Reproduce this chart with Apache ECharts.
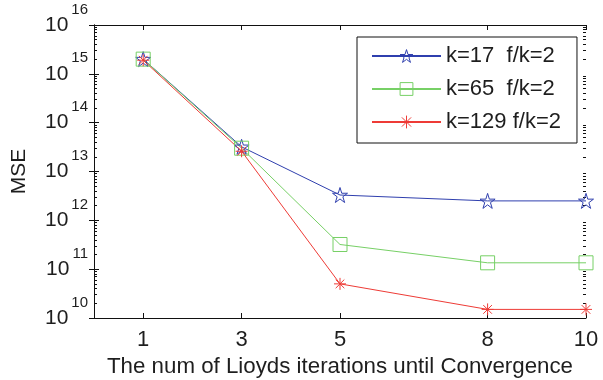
<!DOCTYPE html>
<html>
<head>
<meta charset="utf-8">
<script src="https://cdn.jsdelivr.net/npm/echarts@6/dist/echarts.min.js"></script>
<style>
html,body{margin:0;padding:0;background:#fff;}
#chart{width:603px;height:380px;}
</style>
</head>
<body>
<div id="chart"></div>
<script>
// ---- data ----
var xValues = [1, 3, 5, 8, 10];
var xTicks = [1, 3, 5, 8, 10];
var seriesNames = ['k=17  f/k=2', 'k=65  f/k=2', 'k=129 f/k=2'];
var mseK17 = [2.0e15, 3.2e13, 3.3e12, 2.5e12, 2.5e12];
var mseK65 = [2.0e15, 3.0e13, 3.2e11, 1.35e11, 1.35e11];
var mseK129 = [1.9e15, 2.6e13, 5.0e10, 1.5e10, 1.5e10];
var yTickExps = [10, 11, 12, 13, 14, 15, 16];
var xName = 'The num of Lioyds iterations until Convergence';
var yName = 'MSE';

// ---- helpers ----
var FONT = "'Liberation Sans', Arial, Helvetica, sans-serif";
var TXT = '#1e1e1e';
var yMajor = yTickExps.map(function (e) { return Math.pow(10, e); });
var yMinor = [];
for (var i = 0; i < yTickExps.length - 1; i++) {
  for (var m = 2; m <= 9; m++) yMinor.push(m * Math.pow(10, yTickExps[i]));
}
function pairs(ys) { return xValues.map(function (x, i) { return [x, ys[i]]; }); }

var starPath = 'path://M0,-1L0.2234,-0.3074L0.951,-0.309L0.3614,0.1174L0.5878,0.809L0,0.38L-0.5878,0.809L-0.3614,0.1174L-0.951,-0.309L-0.2234,-0.3074Z';
var squarePath = 'path://M-1,-1L1,-1L1,1L-1,1Z';
var asteriskPath = 'path://M0,-1L0,1M-1,0L1,0M-0.72,-0.72L0.72,0.72M-0.72,0.72L0.72,-0.72';

var colors = ['#2f3fae', '#77d066', '#ee3b36'];
var symbols = [starPath, squarePath, asteriskPath];
var symbolSizes = [15, 14, 12];

function baseY(pos, extra) {
  return Object.assign({
    type: 'log', logBase: 10, min: 1e10, max: 1e16, position: pos,
    axisLine: {show: true, lineStyle: {color: '#111', width: 1}},
    axisTick: {show: true, inside: true, length: 5, customValues: yMajor, lineStyle: {color: '#111'}},
    axisLabel: {show: false},
    splitLine: {show: false}
  }, extra || {});
}
function minorY(pos) {
  return {
    type: 'log', logBase: 10, min: 1e10, max: 1e16, position: pos,
    axisLine: {show: false},
    axisTick: {show: true, inside: true, length: 3, customValues: yMinor, lineStyle: {color: '#111'}},
    axisLabel: {show: false},
    splitLine: {show: false}
  };
}

var legendData = seriesNames.map(function (n, i) {
  return {
    name: n,
    itemStyle: {color: 'rgba(0,0,0,0)', borderColor: colors[i], borderWidth: 1}
  };
});

var seriesData = [mseK17, mseK65, mseK129];
var series = seriesNames.map(function (n, i) {
  return {
    name: n, type: 'line', data: pairs(seriesData[i]),
    symbol: symbols[i], symbolSize: symbolSizes[i],
    itemStyle: {color: 'rgba(0,0,0,0)', borderColor: colors[i], borderWidth: 1},
    lineStyle: {color: colors[i], width: 1}
  };
});

var chart = echarts.init(document.getElementById('chart'), null, {renderer: 'canvas'});
chart.setOption({
  animation: false,
  backgroundColor: '#fff',
  textStyle: {fontFamily: FONT, color: TXT},
  grid: {left: 94, right: 17, top: 25, bottom: 62, containLabel: false, outerBoundsMode: 'none'},
  legend: {
    orient: 'vertical', left: 357, top: 37,
    data: legendData,
    backgroundColor: '#fff', borderColor: '#111', borderWidth: 1,
    padding: [8, 16, 10, 14],
    itemWidth: 69, itemHeight: 16, itemGap: 11,
    textStyle: {fontFamily: FONT, fontSize: 22, color: TXT}
  },
  xAxis: [{
    type: 'value', min: 0, max: 10, position: 'bottom',
    name: xName, nameLocation: 'middle', nameGap: 33,
    nameTextStyle: {fontFamily: FONT, fontSize: 22.3, color: TXT},
    axisLine: {show: true, lineStyle: {color: '#111', width: 1}},
    axisTick: {show: true, inside: true, length: 5, customValues: xTicks, lineStyle: {color: '#111'}},
    axisLabel: {show: true, customValues: xTicks, fontFamily: FONT, fontSize: 22, color: TXT, margin: 11},
    splitLine: {show: false}
  }, {
    type: 'value', min: 0, max: 10, position: 'top',
    axisLine: {show: true, lineStyle: {color: '#111', width: 1}},
    axisTick: {show: true, inside: true, length: 5, customValues: xTicks, lineStyle: {color: '#111'}},
    axisLabel: {show: false},
    splitLine: {show: false}
  }],
  yAxis: [
    baseY('left', {
      name: yName, nameLocation: 'middle', nameGap: 64, nameRotate: 90,
      nameTextStyle: {fontFamily: FONT, fontSize: 21, color: TXT},
      axisLabel: {
        show: true, customValues: yMajor, margin: 6,
        formatter: function (v) {
          var e = Math.round(Math.log(v) / Math.LN10);
          return '{b|10}{s|' + e + '}';
        },
        rich: {
          b: {fontFamily: FONT, fontSize: 21, lineHeight: 46, color: TXT},
          s: {fontFamily: FONT, fontSize: 15, lineHeight: 17, verticalAlign: 'top', color: TXT, padding: [0, 0, 0, 3]}
        }
      }
    }),
    baseY('right'),
    minorY('left'),
    minorY('right')
  ],
  series: series
});
</script>
</body>
</html>
